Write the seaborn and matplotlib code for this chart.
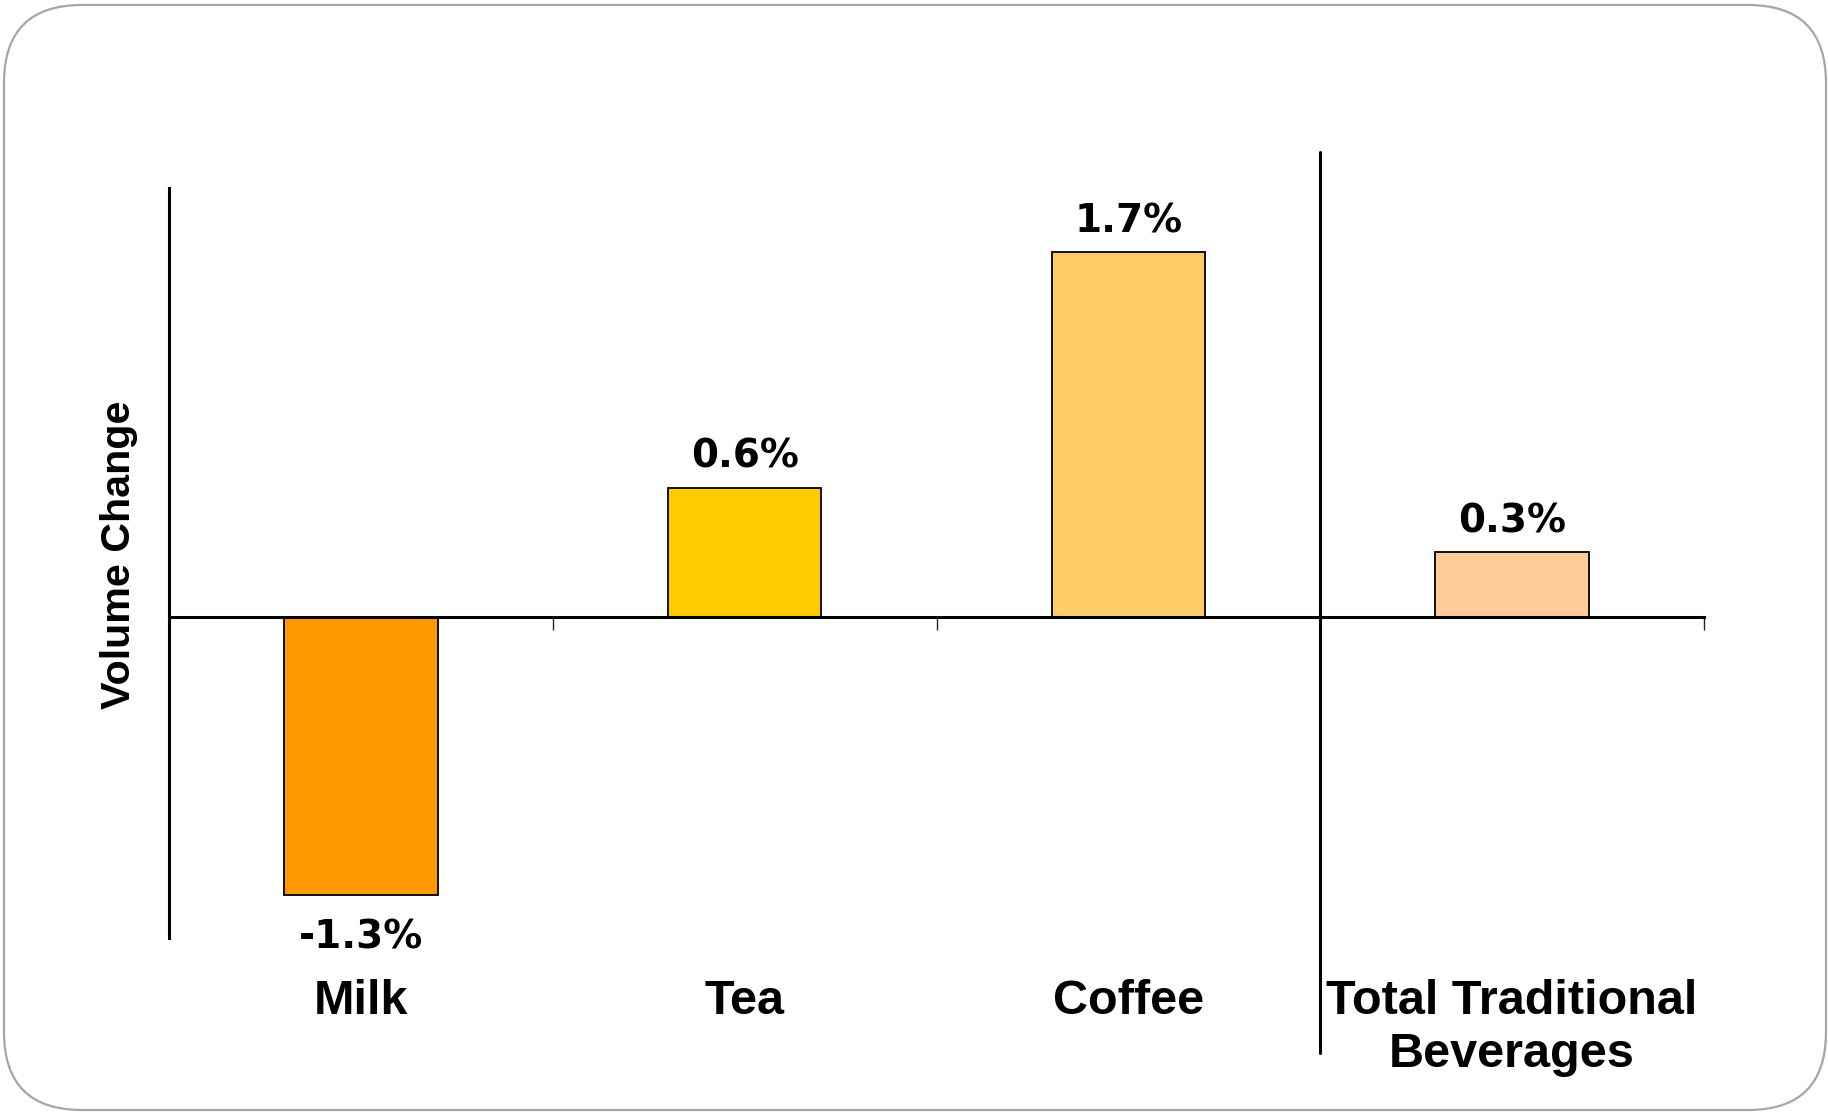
import matplotlib
matplotlib.use("Agg")
import matplotlib.pyplot as plt
import seaborn as sns
import pandas as pd
from matplotlib.patches import FancyBboxPatch
from matplotlib.transforms import IdentityTransform, blended_transform_factory

categories = ["Milk", "Tea", "Coffee", "Total Traditional\nBeverages"]
values = [-1.3, 0.6, 1.7, 0.3]
value_labels = ["-1.3%", "0.6%", "1.7%", "0.3%"]
colors = ["#FF9900", "#FFCC00", "#FFCC66", "#FFCC99"]
y_label = "Volume Change"

sns.set_style("white")
plt.rcParams["font.family"] = ["DejaVu Sans"]

W, H = 1828, 1112
fig = plt.figure(figsize=(W / 100, H / 100), dpi=100)
ax = fig.add_axes([169 / W, 1 - 938 / H, (1704 - 169) / W, (938 - 188) / H])

df = pd.DataFrame({"cat": categories, "val": values})
sns.barplot(data=df, x="cat", y="val", hue="cat", palette=colors, dodge=False,
            saturation=1, width=0.4, edgecolor="black", linewidth=1.3,
            legend=False, ax=ax)

ax.set_xlim(-0.5, 3.5)
ax.set_ylim(-1.5, 2.0)
ax.set_xlabel("")
ax.set_ylabel("")
ax.set_yticks([])
ax.set_xticks([0.5, 1.5, 2.5, 3.5])
ax.set_xticklabels([])
ax.tick_params(axis="x", direction="out", length=9.5, width=1.0, color="#222222", bottom=True)
for s in ["top", "right"]:
    ax.spines[s].set_visible(False)
ax.spines["bottom"].set_position(("data", 0))
ax.spines["bottom"].set_linewidth(2.2)
ax.spines["left"].set_linewidth(2.2)
ax.spines["bottom"].set_color("black")
ax.spines["left"].set_color("black")

# separator line
ax.axvline(2.5, ymin=-0.153, ymax=1.048, color="black", linewidth=2.2, clip_on=False)

# value labels
for i, (v, lab) in enumerate(zip(values, value_labels)):
    off = 22.5 if v >= 0 else -30.5
    ax.annotate(lab, (i, v), xytext=(0, off), textcoords="offset points",
                ha="center", va="center", fontsize=28, fontweight="bold",
                fontfamily="DejaVu Sans", color="black")

# category labels
tr = blended_transform_factory(ax.transData, fig.transFigure)
for i, c in enumerate(categories):
    ax.text(i, 1 - 979 / H, c, transform=tr, ha="center", va="top", fontsize=35,
            fontweight="bold", fontfamily="Liberation Sans", color="black",
            linespacing=1.23, clip_on=False)

fig.text(119 / W, 1 - 555 / H, y_label, rotation=90, ha="center", va="center",
         fontsize=29.7, fontweight="bold", fontfamily="Liberation Sans", color="black")

# rounded border
border = FancyBboxPatch((4, 2), 1822, 1105, boxstyle="round,pad=0,rounding_size=78",
                        transform=IdentityTransform(), facecolor="none",
                        edgecolor="#A6A6A6", linewidth=1.6, zorder=0)
fig.patches.append(border)

fig.savefig("out.png", dpi=100)
